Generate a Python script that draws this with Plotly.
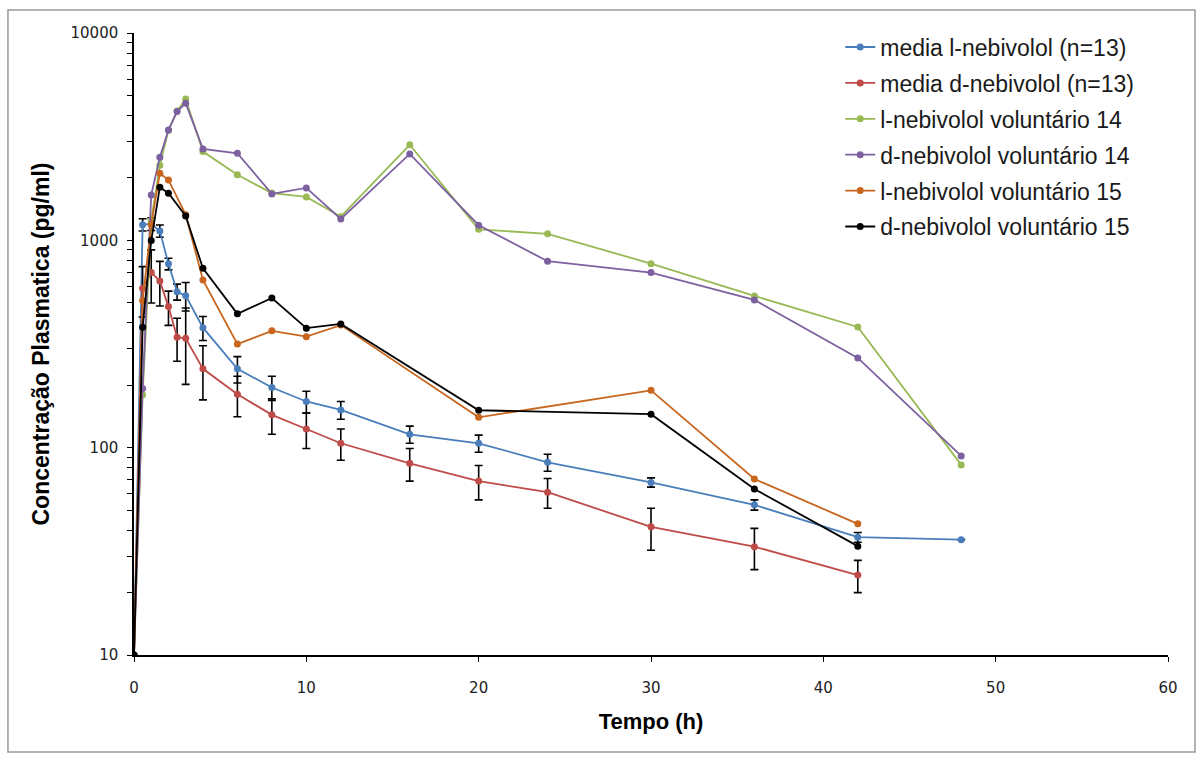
import plotly.graph_objects as go

# ---- data ----
t_mean = [0, 0.5, 1, 1.5, 2, 2.5, 3, 4, 6, 8, 10, 12, 16, 20, 24, 30, 36, 42, 48]
l_mean = [10, 1190, 1200, 1110, 770, 565, 541, 379, 240, 195, 167, 152, 116, 105, 85, 68, 53, 37, 36]
l_sd = [0, 80, 85, 75, 50, 50, 85, 50, 35, 26, 20, 15, 11, 10, 8, 3.5, 3, 2, 0]

t_dmean = [0, 0.5, 1, 1.5, 2, 2.5, 3, 4, 6, 8, 10, 12, 16, 20, 24, 30, 36, 42]
d_mean = [10, 587, 699, 637, 479, 341, 337, 240, 181, 144, 123, 105, 84, 69, 61, 41.5, 33.3, 24.3]
d_sd = [0, 160, 200, 155, 90, 80, 135, 70, 40, 28, 24, 18, 15, 13, 10, 9.5, 7.5, 4.3]

t_v14 = [0, 0.5, 1, 1.5, 2, 2.5, 3, 4, 6, 8, 10, 12, 16, 20, 24, 30, 36, 42, 48]
l_v14 = [10, 180, 1250, 2300, 3400, 4200, 4800, 2680, 2070, 1690, 1620, 1300, 2890, 1130, 1075, 772, 539, 382, 82.6]
d_v14 = [10, 193, 1656, 2517, 3410, 4178, 4586, 2760, 2630, 1675, 1790, 1268, 2610, 1183, 793, 699, 516, 271, 91.2]

t_v15 = [0, 0.5, 1, 1.5, 2, 3, 4, 6, 8, 10, 12, 20, 30, 36, 42]
l_v15 = [10, 512, 1190, 2108, 1955, 1330, 644, 316, 366, 343, 390, 140, 189, 70.6, 42.9]
d_v15 = [10, 381, 997, 1804, 1688, 1312, 733, 442, 527, 377, 395, 151.5, 145, 63.2, 33.5]

names = [
    "media l-nebivolol (n=13)",
    "media d-nebivolol (n=13)",
    "l-nebivolol voluntário 14",
    "d-nebivolol voluntário 14",
    "l-nebivolol voluntário 15",
    "d-nebivolol voluntário 15",
]
colors = ["#4A7EBB", "#BE4B48", "#98B954", "#7D60A0", "#C8661E", "#000000"]

y_ticks = [10, 100, 1000, 10000]
x_ticks = [0, 10, 20, 30, 40, 50, 60]

fig = go.Figure()

series = [
    (t_mean, l_mean, l_sd),
    (t_dmean, d_mean, d_sd),
    (t_v14, l_v14, None),
    (t_v14, d_v14, None),
    (t_v15, l_v15, None),
    (t_v15, d_v15, None),
]

for i, ((tx, ty, sd), nm, col) in enumerate(zip(series, names, colors)):
    err = None
    if sd is not None:
        err = dict(type="data", array=sd, visible=True, color="#000000",
                   thickness=1.6, width=4)
    fig.add_trace(go.Scatter(
        x=tx, y=ty, name=nm, mode="lines+markers", legendgroup=f"g{i}",
        line=dict(color=col, width=1.8),
        marker=dict(color=col, size=7, symbol="circle"),
        error_y=err,
    ))

minor_vals = [m * 10 ** k for k in range(1, 4) for m in range(2, 10)]

fig.update_layout(
    width=1202, height=760,
    margin=dict(l=134, r=34, t=33, b=105),
    paper_bgcolor="white", plot_bgcolor="white",
    showlegend=True,
    legend=dict(
        x=0.683, y=1.012, xanchor="left", yanchor="top",
        font=dict(family="Arial, Liberation Sans", size=23, color="#1a1a1a"),
        bgcolor="rgba(0,0,0,0)", tracegroupgap=3, itemwidth=30,
    ),
    xaxis=dict(
        range=[0, 60], tickvals=x_ticks, ticks="outside", ticklen=5,
        tickwidth=1, tickcolor="black", showline=True, linecolor="black",
        linewidth=1.5, showgrid=False, zeroline=False, ticklabelstandoff=13,
        tickfont=dict(family="DejaVu Sans", size=15, color="#222"),
        title=dict(text="<b>Tempo (h)</b>", standoff=18,
                   font=dict(family="Arial, Liberation Sans", size=22, color="black")),
    ),
    yaxis=dict(
        type="log", range=[1, 4], tickvals=y_ticks, ticktext=[str(v) for v in y_ticks],
        ticks="outside", ticklen=5, tickwidth=1, tickcolor="black",
        showline=True, linecolor="black", linewidth=1.5, showgrid=False, zeroline=False,
        ticklabelstandoff=6,
        tickfont=dict(family="DejaVu Sans", size=15, color="#222"),
        minor=dict(tickvals=minor_vals, ticks="outside", ticklen=5, tickwidth=1,
                   tickcolor="black", showgrid=False),
        title=dict(text="<b>Concentração Plasmatica (pg/ml)</b>", standoff=14,
                   font=dict(family="Arial, Liberation Sans", size=23, color="black")),
    ),
    shapes=[dict(type="rect", xref="paper", yref="paper",
                 x0=-0.1219, x1=1.0261, y0=-0.1560, y1=1.0370,
                 line=dict(color="#9a9a9a", width=1.5), fillcolor="rgba(0,0,0,0)",
                 layer="below")],
)

fig.write_html("out.html")
